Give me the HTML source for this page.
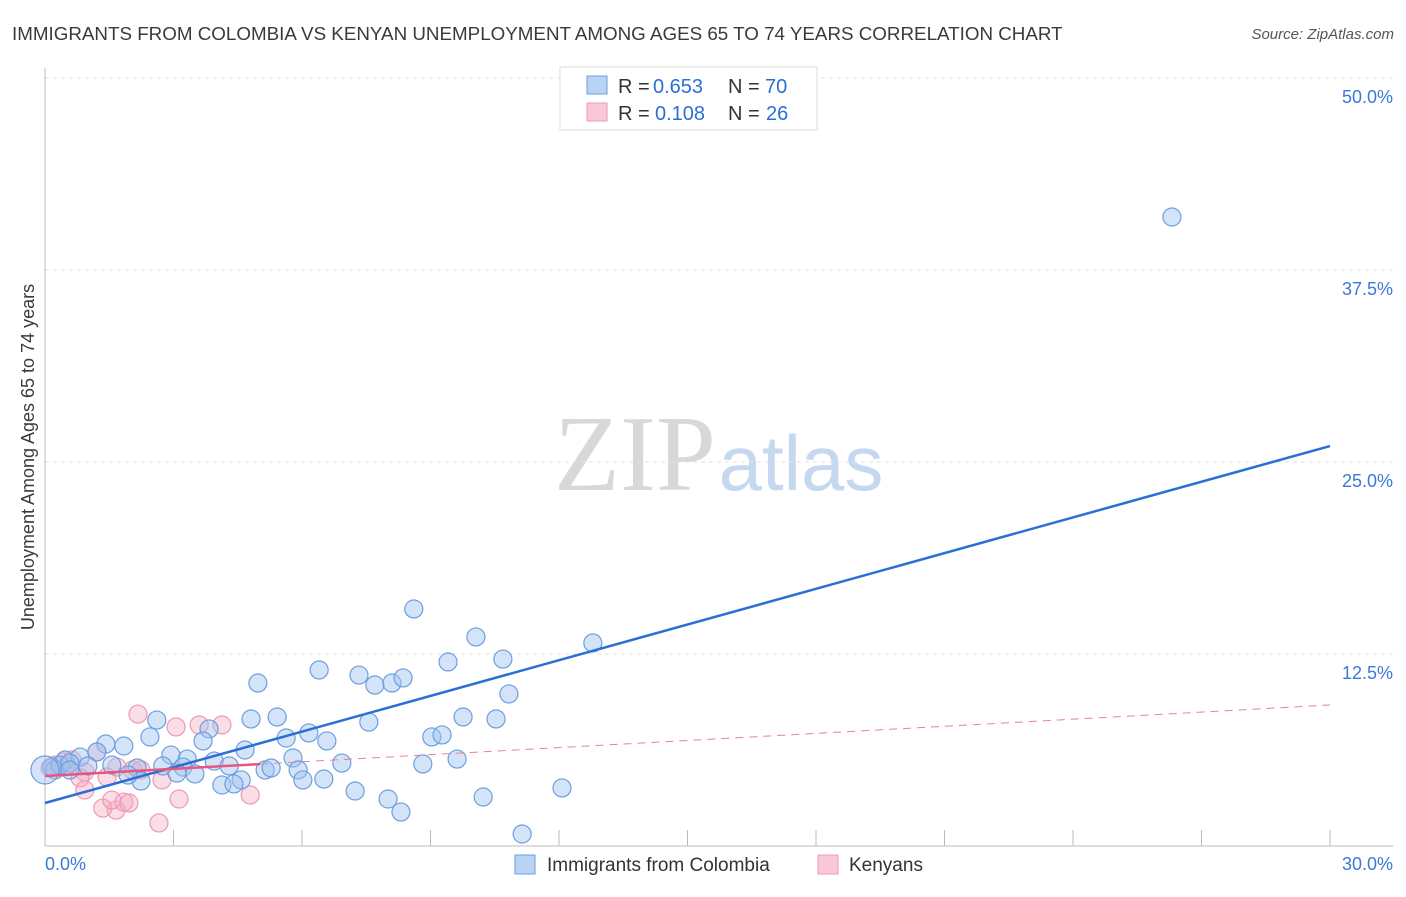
<!DOCTYPE html>
<html><head><meta charset="utf-8"><style>
body{margin:0;background:#fff;font-family:"Liberation Sans",sans-serif;}
svg text{font-family:"Liberation Sans",sans-serif;}
</style></head><body>
<svg id="chart" width="1406" height="892">
<text x="12" y="40" font-size="18.8" fill="#3a3a3a">IMMIGRANTS FROM COLOMBIA VS KENYAN UNEMPLOYMENT AMONG AGES 65 TO 74 YEARS CORRELATION CHART</text>
<text x="1394" y="39" font-size="15" fill="#555" text-anchor="end" font-style="italic">Source: ZipAtlas.com</text>
<text x="635" y="490" font-size="108" fill="#d8d8d8" text-anchor="middle" style="font-family:'Liberation Serif',serif">ZIP</text>
<text x="801" y="490" font-size="78" fill="#c5d8f0" text-anchor="middle">atlas</text>
<text transform="translate(34,457) rotate(-90)" font-size="18" fill="#3a3a3a" text-anchor="middle">Unemployment Among Ages 65 to 74 years</text>
<g id="grid"></g><g id="marks"></g>
<g>
<rect x="560" y="67" width="257" height="63" fill="#fff" stroke="#ddd"/>
<rect x="587" y="76" width="20" height="18" fill="#b9d3f5" stroke="#6d9ee0"/>
<rect x="587" y="103" width="20" height="18" fill="#f9c8d6" stroke="#eb9ab3"/>
<text x="618" y="93" font-size="20" fill="#333">R =</text><text x="653" y="93" font-size="20" fill="#2a6fd6">0.653</text>
<text x="728" y="93" font-size="20" fill="#333">N =</text><text x="765" y="93" font-size="20" fill="#2a6fd6">70</text>
<text x="618" y="120" font-size="20" fill="#333">R =</text><text x="655" y="120" font-size="20" fill="#2a6fd6">0.108</text>
<text x="728" y="120" font-size="20" fill="#333">N =</text><text x="766" y="120" font-size="20" fill="#2a6fd6">26</text>
</g>
<g>
<rect x="515" y="855" width="20" height="19" fill="#b9d3f5" stroke="#6d9ee0"/>
<text x="547" y="871" font-size="19" fill="#333">Immigrants from Colombia</text>
<rect x="818" y="855" width="20" height="19" fill="#f9c8d6" stroke="#eb9ab3"/>
<text x="849" y="871" font-size="19" fill="#333">Kenyans</text>
</g>
</svg>
<script>
const yTicks=[12.5,25,37.5,50];
const yTickLabels=["12.5%","25.0%","37.5%","50.0%"];
const xTickVals=[0,3,6,9,12,15,18,21,24,27,30];
const blueX=[26.31,8.61,10.06,12.79,10.69,9.41,6.40,7.33,7.70,8.10,8.36,4.97,10.83,2.61,4.81,5.42,7.56,9.76,10.53,3.83,2.45,5.63,6.16,6.58,9.03,9.27,1.42,1.84,2.94,3.32,3.69,4.67,5.79,3.95,6.93,9.62,8.82,4.30,0.47,0.82,1.21,1.56,2.15,2.75,3.22,3.50,3.08,2.24,5.14,5.28,5.91,6.02,6.51,4.58,4.13,4.41,7.24,8.01,10.23,12.07,8.31,11.14,0.16,0.23,0.35,0.58,1.00,1.94,0.58,0];
const blueY=[40.95,15.43,13.61,13.22,12.17,11.98,11.46,11.13,10.48,10.61,10.94,10.61,9.90,8.20,8.27,8.40,8.07,8.40,8.27,7.62,7.10,7.03,7.36,6.84,7.10,7.23,6.64,6.51,5.92,5.66,6.84,6.25,5.73,5.53,5.40,5.66,5.34,5.21,5.60,5.79,6.12,5.27,5.08,5.21,5.14,4.69,4.75,4.23,4.95,5.08,4.95,4.30,4.36,4.30,3.97,4.04,3.58,3.06,3.19,3.78,2.21,0.78,5.14,4.95,5.27,5.40,5.21,4.62,4.95,4.95];
const pinkX=[2.17,3.06,3.60,4.13,1.21,0.63,0.23,0.93,0.82,1.45,2.05,2.73,2.24,1.68,1.35,1.66,1.84,1.96,1.56,0.93,3.13,4.79,2.66,0.44,0.12,0.49];
const pinkY=[8.59,7.75,7.88,7.88,6.12,5.60,5.27,4.82,4.43,4.49,4.95,4.30,4.95,5.14,2.47,2.34,2.86,2.80,2.99,3.65,3.06,3.32,1.50,5.47,5.08,5.21];
const blueTrend=[2.80,26.04];
const pinkTrend=[4.56,9.18];
const pinkSolidEnd=5.02;
const X=v=>45+v/30*1285, Y=v=>846-v/50*768;
const NS="http://www.w3.org/2000/svg";
function mk(t,a,p){const e=document.createElementNS(NS,t);for(const k in a)e.setAttribute(k,a[k]);p.appendChild(e);return e;}
const g=document.getElementById('grid'), m=document.getElementById('marks');
yTicks.forEach((t,i)=>{
 const l=mk('line',{x1:45,x2:1393,y1:Y(t),y2:Y(t),stroke:'#e2e2e2','stroke-dasharray':'4,4'},g);
 
 
 const tx=mk('text',{x:1393,y:Y(t)+25,'font-size':18,fill:'#3c78d8','text-anchor':'end'},g);
 tx.textContent=yTickLabels[i];
 
 
});
mk('line',{x1:45,x2:45,y1:68,y2:846,stroke:'#bbb'},g);
mk('line',{x1:45,x2:1393,y1:846,y2:846,stroke:'#bbb'},g);
xTickVals.forEach(t=>{if(t>0){const l=mk('line',{x1:X(t),x2:X(t),y1:830,y2:846,stroke:'#bbb'},g);
 
 }});
const a=mk('text',{x:45,y:870,'font-size':18,fill:'#3c78d8'},g);a.textContent='0.0%';


const b=mk('text',{x:1393,y:870,'font-size':18,fill:'#3c78d8','text-anchor':'end'},g);b.textContent='30.0%';


pinkX.forEach((x,i)=>{const c=mk('circle',{cx:X(x),cy:Y(pinkY[i]),r:9,fill:'rgba(246,170,192,0.4)',stroke:'#eb9ab3','stroke-width':1.2},m);
 
 });
blueX.forEach((x,i)=>{const c=mk('circle',{cx:X(x),cy:Y(blueY[i]),r:i==blueX.length-1?14:9,fill:'rgba(160,196,240,0.45)',stroke:'#6d9ee0','stroke-width':1.2},m);
 
 });
const bt=mk('line',{x1:X(0),y1:Y(blueTrend[0]),x2:X(30),y2:Y(blueTrend[1]),stroke:'#2a6fd6','stroke-width':2.5},m);


const pe=pinkTrend[0]+(pinkTrend[1]-pinkTrend[0])*pinkSolidEnd/30;
const pt=mk('line',{x1:X(0),y1:Y(pinkTrend[0]),x2:X(pinkSolidEnd),y2:Y(pe),stroke:'#e8557e','stroke-width':2.5},m);


const pd=mk('line',{x1:X(pinkSolidEnd),y1:Y(pe),x2:X(30),y2:Y(pinkTrend[1]),stroke:'#e8809e','stroke-width':1,'stroke-dasharray':'8,6'},m);


</script>
</body></html>
